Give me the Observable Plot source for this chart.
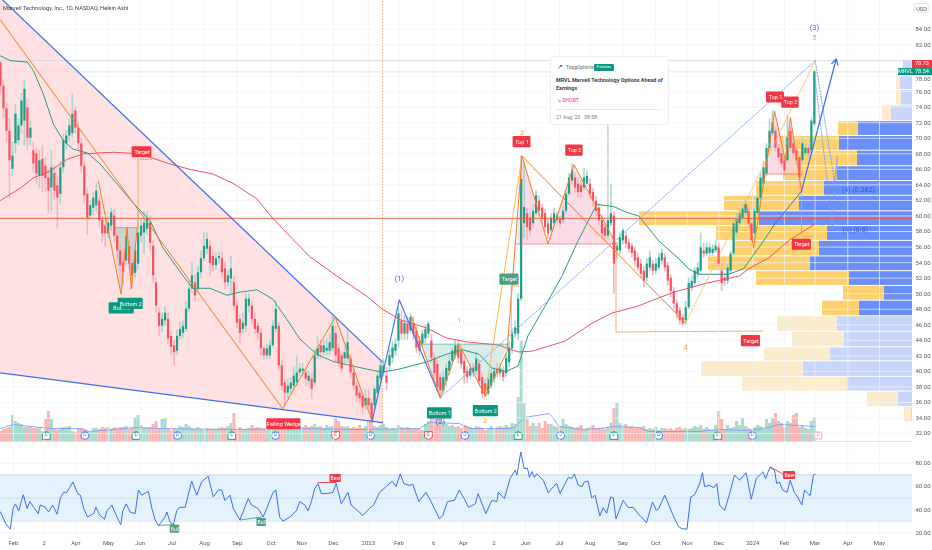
<!DOCTYPE html>
<html><head><meta charset="utf-8">
<script src="https://cdn.jsdelivr.net/npm/d3@7"></script>
<script src="https://cdn.jsdelivr.net/npm/@observablehq/plot@0.6"></script>
<style>
html,body{margin:0;padding:0;background:#fff;font-family:Roboto,"Open Sans",sans-serif}
#wrap{position:relative;width:932px;height:550px;overflow:hidden;filter:blur(.3px)}
#wrap svg{position:absolute;left:0;background:transparent}
.tag{position:absolute;color:#fff;font-size:5.6px;line-height:7.5px;height:7.5px;text-align:center;z-index:6}
#card{position:absolute;left:550px;top:56px;width:117px;height:67px;background:#fff;border:1px solid #eceef2;border-radius:4px;z-index:5;color:#3c4150}
#card div{position:absolute;white-space:nowrap}
</style></head><body>
<div id="wrap"></div>
<script>
// ---------- time axis ----------
const firstBar = Date.UTC(2022,0,19,17);
const lastTime = Date.UTC(2024,5,1,7);
const barHours = 68;
const t = i => new Date(firstBar + i*barHours*3600e3);
const monthDates = ["2022-02-01","2022-03-02","2022-04-01","2022-05-02","2022-06-01","2022-07-01","2022-08-01","2022-09-01","2022-10-03","2022-11-01","2022-12-01","2023-01-03","2023-02-01","2023-03-06","2023-04-03","2023-05-02","2023-06-01","2023-07-03","2023-08-01","2023-09-01","2023-10-02","2023-11-01","2023-12-01","2024-01-02","2024-02-01","2024-03-01","2024-04-01","2024-05-01"].map(d=>new Date(d));
const monthLabels = ["Feb","2","Apr","May","Jun","Jul","Aug","Sep","Oct","Nov","Dec","2023","Feb","6","Apr","2","Jun","Jul","Aug","Sep","Oct","Nov","Dec","2024","Feb","Mar","Apr","May"];
// ---------- candles (Heikin Ashi) ----------
const barOpen = [79.7,76.7,73.8,70.9,66,69.3,69.7,71.6,72.2,73.9,70,68.4,68,65.1,67.3,66.4,64.9,63.6,65.5,63.9,
62.8,66.2,69.3,70.3,70.6,73.5,71.3,69.3,66.4,62.8,60,61,61.3,61.9,59.4,58.7,57.7,58.7,60,57.4,
55.5,54,54.2,56.1,53.9,52.6,53.8,57.4,57.8,58.3,59.1,56.1,51.4,47.5,45.8,46.5,46.7,44.5,43.3,42.6,
44.5,44.9,45.4,48,50.6,51.4,50.6,52.7,54.5,55.7,56.1,54.8,53.6,54.5,54.5,53.2,51.4,51.9,51.4,48.4,
46.7,45.4,45.8,48.4,48.4,46.7,45.8,44.9,42.9,42,42,43.3,45.4,45.8,40.7,38.5,37.2,37.7,38.1,38.5,
39.8,40,39.8,38.7,39,38.5,42,43.3,42.4,42.6,42.6,42.9,44.9,42.9,42,41.6,41.6,41.6,39.8,38.1,
37.2,36.8,35.6,36.5,35.9,35.6,37.2,39,39.8,39.4,40.7,41.7,42.6,43.9,46.5,44.8,46.1,45.2,46.1,45.2,
43.9,43.5,44.2,44.8,43.9,41.7,40.9,39.2,37.5,38.7,40,41.3,42,43.3,42.6,41.3,40,39.4,39.8,40,
40.9,39.2,38.4,37.1,38.1,39,40.3,39.7,40,39.7,41.1,42.9,44.8,44.8,49.3,59,60.3,59.7,59,60.3,
61.9,61,60.3,59,58.1,59,59.4,59.6,59.4,60.6,62.8,64.5,64.9,64.1,63.9,63.6,64.1,64.1,63,61.9,
61,59.4,58.5,57.4,59,60,55.5,55.5,56.8,57.4,56.5,56.1,55.5,54.6,53.8,52.9,52,53.3,53.8,52.9,
53.3,54.2,54.6,53.6,52,50.3,48.7,47.8,46.9,46.5,48.2,50.7,51.3,52.5,52.9,55.5,55.1,55.2,55.2,55.5,
55.9,52.9,52,51.6,52.9,55.1,57.8,59,59.7,60.3,60.6,59,57.7,60.3,62.3,64.1,65.4,68.7,70.6,70.9,
68.7,68,67.1,67.1,70.9,69.3,68.4,67.5,67.1,68,68.7,68.4,71.8];
const barClose = [76.7,73.8,70.9,67.1,67.7,73.1,71.6,74.8,76.3,70,71.3,66.7,65.4,67.1,65.1,64.8,63.2,66.2,63.2,62.3,
66.2,69.7,70.3,71.6,73.1,71.3,69.3,66.4,62.6,59.7,61.3,62.3,63.2,59.4,57.7,57.7,59.1,60.4,57.4,55.5,
53.6,52.7,57.4,53.8,52.3,55.5,57.8,58.7,59.1,59.6,56.5,52.3,48.4,45.8,46.7,47.5,44.2,43.1,42.4,44.5,
45.4,45.8,48,50.6,52.3,49.7,52.7,54.5,56.1,57,53.9,53.6,54.5,54.8,52.7,51.4,52.3,53.2,48.4,46.2,
44.9,46.2,49.3,49.3,46.7,45.4,44.9,42.9,42,42.9,43.3,45.8,48,40.7,38.1,37.2,38.1,38.5,39.4,39.8,
40.3,40.3,39,39.4,37.7,42,42.9,42.4,43.3,43,43.7,45.8,42,41.1,40.3,42.4,43.7,39.8,38.1,36.8,
36.5,35.3,36.5,35.6,33.9,37.7,39.4,40.7,40.7,38.5,42,43,43.5,47.4,44.8,46.2,44.8,46.9,44.8,43,
42.6,44.8,45.4,46.1,41.7,39.7,37.9,37.5,39.2,40.4,41.3,42.6,43.3,41.7,40.9,39.7,39.2,40.3,40.4,41.6,
38.7,37.1,36.8,39,39.7,40,39.7,40.3,39.2,41.7,43,44.8,45.6,49.3,64.7,61.1,58.5,58.1,60.6,62.6,
60.6,59.7,58.5,57.7,59.7,60.3,60,59,60.6,62.8,64.9,65.8,63.6,63,63,64.9,65.1,62.8,61.9,60.6,
59.4,57.7,57.4,59.4,60.3,53.8,56.1,57.2,58.1,56.4,55.7,55.2,54.2,53.3,52.5,51.6,53.8,54.6,52.9,53.8,
54.6,55.2,53.3,51.6,50.3,48.7,47.4,46.5,46.1,48.2,51.3,51.6,52.9,53.3,55.9,55.1,55.9,55.9,55.7,56.1,
53.8,51.3,51.6,53.3,55.1,59,59.6,60.3,60.9,61.5,59,56.8,60.6,62.3,64.9,66.2,68.7,70.9,72,68.7,
67.5,66.7,65.8,70,68.7,68,67.1,64.9,69.3,68.7,68,72.2,78.54];
const barHigh = [79.9,77.5,74.5,72.5,69.5,74.4,72.5,75.8,77.4,75,72.2,69.5,68.8,68.5,69,67.5,66,68.4,66.5,65,
67,70.5,71,72.5,75.7,74,72,70,67,63.5,62,63,64.3,62.5,60,59.5,60,61,60.8,58,
56.2,55,58.3,56.8,54.8,56.5,60.9,59.5,60.5,60.5,60,56.8,52,48.2,47.5,48.3,47.5,45.2,44,45.3,
46.3,46.5,49,51.5,54,52.5,53.5,55.5,57.8,57.8,56.8,55.5,55.3,55.5,55.3,54,53,54.8,52.2,49,
47.3,47.5,50,50,49,47.5,46.3,45.5,43.2,43.5,44,46.5,49.1,46.3,41.5,39,39,39.2,40.5,42,
41,41,40.5,40,39.8,42.8,44.5,44,44,44.2,44.8,47.1,45.8,43.5,42.5,43.2,45.4,42.2,40.2,38.6,
37.7,37.2,37.7,37.7,36.5,38,40,41.5,41.5,40.5,42.8,43.8,44.2,48.2,47.8,47.2,47,47.5,47,45.8,
44.5,45.3,46,46.4,44.8,42.2,41.5,39.8,40,41,42,43,44,44,43,41.8,40.6,41,41,42.5,
41.5,39.8,39,39.5,40.3,40.5,41,41,40.5,42.3,43.8,45.5,46.5,50,67.7,66.9,61,60.5,61.5,63.2,
62.5,61.5,60.8,59.6,60.3,61,60.5,60,61.2,63.2,65.5,66.7,65.5,64.8,64.5,66.1,65.8,64.8,63.5,62.5,
61.5,60,59,60,64.1,60.5,56.6,57.8,58.4,57.9,57,56.5,56,55.2,54.4,53.5,54.5,55.4,54.3,54.5,
55.2,55.8,55.2,54,52.4,50.8,49.2,48.2,47.3,49,52,52.3,53.4,54,57.8,56.5,56.6,56.5,56.3,56.8,
56.4,54,52.6,53.8,55.5,59.5,60.2,60.8,61.5,62,61,59.5,61,62.8,65.5,67,69.3,72.5,73.5,71.5,
69.2,68.5,67.7,72.9,71.5,70,69,68,70,69.2,69.2,72.6,78.73];
const barLow = [75.5,72.5,69.5,62.2,65,68,69,70.5,69,68.5,69,65.5,64,63.5,63,63,60.3,60.5,62,58.3,
61.5,65.5,68.5,69.5,70,70.5,68.5,65.5,61.5,57.5,59.5,60,60.5,58.5,56.5,56,57,58,56.5,54.5,
52.5,51,53.5,53,50.7,52,53,56.5,55,57.5,55.5,51.3,47.5,44.5,45,45.8,43.5,42,40.7,42,
44,44.2,45,47.5,50,49,50,52,54,55,52.3,52.8,53,53.8,52,50.5,50.8,50,47.8,45.5,
43.6,44.8,45,47.5,46,44.8,44,42,41.3,41.5,41.5,43,45,40,37.5,35.5,36.5,37,37.5,38,
39.3,39.3,38,38,36.4,38,41.5,41.5,42,42,42,42.5,41,40.5,39.8,41,41,39,37.5,36,
35.8,34.5,35,35,33.6,35,36.8,38.5,39.3,37.5,40,41,42,43,44,44,44,44.8,44,42.3,
42,43,43.5,44.2,41,39,37.3,36.7,37,38,39.5,40.8,41.5,41,40.2,38.4,38.5,39,39.2,39.5,
38,36.5,36.6,36.8,37.7,38.5,39.2,39.2,38.6,39.3,40.5,42.2,44.3,44,49,57,56.8,57.3,58.5,60,
60,59,57.8,57,57.8,58.6,59,58.5,59,60.2,62.5,64,63,62.3,62.3,63.2,63.8,62.2,61.2,60,
58.8,57,56.7,57,58.6,50,54.5,55,56.3,55.8,55.2,54.6,53.6,52.8,52,50.8,51.5,52.8,52.3,52.5,
53,53.7,52.8,51,49.5,48,46.8,46,45.8,46,48,50.3,51,52,52.7,54.5,54.8,54.8,54.8,55.2,
53.3,50.3,51,51.2,52.5,54.8,57.3,58.5,59.2,59.8,58.5,55.9,57.3,60,62,63.8,65,68.3,70.3,68.2,
67,66.2,65.3,66.8,68.2,67.5,66.6,63.2,66.8,67.6,67.5,68,71.5];
// ---------- moving averages ----------
const maGreenBars = [0,3.3,9,11,14.3,17.7,21,24.3,29,33.3,39,44.3,50,54.3,61,64.3,70,75.7,80,85.7,91,95.7,100,105.7,111,117.7,122.3,127.7,133.3,142.3,149,154.3,160,164.3,169,173,176.3,182,187.7,193,199.3,205,209,213.3,220,226.7,230,233.3,243.3,248.3,254.3,258.3];
const maGreen = [80.6,80,79.8,78.7,75.7,71.8,69.7,68.6,68.1,66.7,64.1,61.7,59.4,55.9,52.3,50.7,50.7,49.8,50.2,50.5,49.3,46.7,44.2,42.2,41.3,40.7,40.3,39.9,40.3,41.2,42.2,42.8,42.2,40.4,40,40.7,44.6,48.4,52.3,56.8,61.5,61.2,60.5,60,56.8,54.5,53.2,52.5,52.5,53.2,56.4,58.7];
const maRedBars = [0,3.3,6.7,11,16.7,22.3,27.7,37.7,46.7,55.7,63.3,71,77.7,85.7,91,96.7,103.3,112.3,122.3,127.7,133.3,142.3,149,155.7,166.3,173,177.7,188.7,197.7,204.3,213,224.3,235.3,247,250,256.7,263.3,272.3];
const maRed = [62,62.8,63.6,64.9,65.8,67.3,68,68.2,68,66.8,66,65.4,64.2,62.2,59.7,57.4,54.8,52.3,49.7,48,46.7,45.6,44.3,43.8,43.4,42.5,42.6,43.9,46.2,47.5,48.4,50.1,51.3,52.3,53.2,54.6,56.8,59];
// ---------- chart patterns ----------
const priceTicks = d3.range(32,86,2).filter(p=>p!==80&&p!==78);
const gridTicks = d3.range(32,86,2);
const wedgeBars = [0,127.7], wedgeTop = [88.06,41.2], wedgeBottom = [39.8,33.4];
const fallBars = [0,94.3,111.9,124.2], fallPrices = [85.2,35.2,47,33.6];
const waveBlueBars = [124.2,133.3,147], waveBluePrices = [33.6,49.2,36.6];
const waveBlueDotBars = [147,272.3], waveBlueDotPrices = [36.6,80];
const dblBottomBars = [137.3,147,153.3,162,169.3,174.3], dblBottomPrices = [47.1,36.6,43.5,36.8,42.6,67.7];
const lightWaveBars = [162,174.3], lightWavePrices = [36.8,67.7];
const dblTopBars = [174.3,183,191.7,205.7], dblTopPrices = [67.7,56.4,66.6,56.4];
const wave34Bars = [174.3,229], wave34Prices = [67.7,46.2];
const wave45Bars = [229,272.3], wave45Prices = [46.2,80];
const leftWBars = [32.7,40.3,42.3,43.7,45.7], leftWPrices = [64.5,49.9,58.5,50.6,58.5];
const rightMBars = [249.3,251.7,258.7,262.3,264,267.7], rightMPrices = [61.5,55.9,73.5,67.1,72.7,63.2];
const fillPink1Bars = [173,174.3,183,191.7,205.7], fillPink1 = [56.4,67.7,56.4,66.6,56.4];
const fillPink2Bars = [256,258.7,262.3,264,267], fillPink2 = [65.4,73.5,67.1,72.7,65.4];
const fillTealBars = [140.6,147,153.3,162,170], fillTeal = [43.5,36.6,43.5,36.8,43.5];
const fillGreyBars = [38.3,40.3,42.3,43.7,45.7], fillGrey = [58.5,49.9,58.5,50.6,58.5];
const target1Bars = [46,46,50.7], target1Prices = [58.5,67.3,67.3];
const target2Bars = [170.7,170.7,173.3], target2Prices = [43.9,51,51];
const target3Bars = [205.7,205.7,254.7], target3Prices = [56.4,45.07,45.2];
const target4Bars = [267.7,267.7,271.7], target4Prices = [63.2,57.4,57.4];
const fibABars = [272.3,278.7,279.7,278], fibAPrices = [80,64.5,67.7,58.3];
const fibBBars = [272.3,276.3,278], fibBPrices = [77.4,64.5,58.3];
const impulseBars = [258.3,267.7], impulsePrices = [58.7,63.2];
const levels = {support:59.7, high:80, last:78.54, ideaBar:203, ideaTop:71.7, ideaBottom:60};
// labels: text, bar, price, half width in bars, colour
const boxLabels = [
 ["Target",47.3,68.2,3.3,"#f23645"],["Bot......",40.5,48.1,4.2,"#089981"],["Bottom 2",43.5,48.7,4.2,"#089981"],
 ["Falling Wedge",94.7,33.2,5.7,"#f23645"],["Bottom 1",146.8,34.6,4.1,"#089981"],["Bottom 2",162.2,34.9,4.2,"#089981"],
 ["Target",170.1,51.8,3.2,"#4f9d83"],["Top 1",174.3,69.5,3,"#f23645"],["Top 2",191.8,68.4,2.9,"#f23645"],
 ["Target",250.8,43.9,3.2,"#f23645"],["Top 1",259,75.25,3,"#f23645"],["Top 2",264,74.6,2.9,"#f23645"],["Target",267.8,56.3,3.2,"#f23645"]];
const waveLabels = [["(1)",133.3,52,"#3a6df0"],["(2)",147,33.5,"#3a6df0"],["(3)",272,84.2,"#3a6df0"],["(4) (0.382)",286.7,63.4,"#2f5bd8"],["(4) (0.5)",285.7,58.2,"#2f5bd8"],
 ["1",153.3,46.5,"#f7a23b"],["2",162,33.7,"#f7a23b"],["3",174.3,70.7,"#f7a23b"],["4",229,43.1,"#f7a23b"],["5",272,82.9,"#f7a23b"]];
// ---------- volume profile ----------
const rowTop = [80.1,78.1,76.2,74.2,72.2,70.3,68.4,66.4,64.5,62.6,60.6,58.7,56.8,54.8,52.9,51,49.1,47.1,45.1,43.1,41.3,39.3,37.4,35.4,33.5];
const rowTotal = [9,16,16,30,74,133,132,129,156,188,273,196,179,204,156,69,90,135,120,148,211,170,45,8];
const rowUp = [9,12,11,21,54,73,55,75,88,113,153,85,93,102,63,28,53,75,68,82,109,65,14,1];
// ---------- volume ----------
const volume = [10,12,13,14,26,20,18,17,14,14,14,13,13,14,10,22,30,22,12,11,
12,14,14,15,10,9,12,13,11,10,9,13,13,12,14,13,14,12,14,13,
14,14,15,12,14,24,26,16,14,13,14,17,20,13,22,23,12,11,13,12,
15,14,17,15,13,12,14,12,11,13,12,12,12,13,14,13,15,18,28,11,
14,12,12,13,16,13,14,13,12,11,12,13,13,12,12,13,14,13,12,12,
15,14,16,14,15,17,14,15,13,16,14,15,23,20,15,14,15,13,14,13,16,13,15,20,21,15,14,16,
17,14,12,13,12,16,14,13,14,13,12,13,12,11,17,20,24,25,22,28,20,17,15,
16,14,15,13,16,15,14,12,15,14,13,11,12,15,13,14,15,14,16,14,18,17,
44,100,38,22,15,
18,15,18,13,20,17,17,15,14,15,22,17,15,14,12,14,16,12,13,14,16,12,13,
13,12,14,18,33,38,
18,16,17,14,15,13,13,14,15,12,13,12,14,11,13,13,
12,13,11,13,14,12,13,12,13,15,14,16,12,14,12,11,16,30,22,
12,16,13,14,20,16,23,15,13,12,14,16,15,12,22,18,23,28,20,18,14,20,18,26,28,14,16,13,12,20,24];
const volMaBars = [0,4,16.7,26.7,30,45.3,53.3,76.7,100,120,140,143.3,153.3,156.7,170,171.7,175,183.3,184.3,186.7,195,200,205,213.3,216.7,233.3,240,250,256.7,260,266.7,272.3];
const volMa = [13,17,13,13,10,14,13,12,13,12,13,19,18,13,13,14,24,28,25,15,12,13,15,14,10,10,12,11,14,17,16,15];
const dividendBars = [28.2,59.2,91.9,123.7,155.2,187.2,220,251.3];
const earningsUpBars = [15.3,45.3,77.3,173,205,239.7];
const earningsDownBars = [112,143];
const earningsNextBars = [273.3];
// ---------- RSI ----------
const rsiBars = [0,1.7,3.3,4.2,5,6.1,7.6,8.9,9.8,11.1,12.6,13.3,15,16.1,17.4,18.9,20,21.1,22.2,24.2,25.8,26.7,27.8,29.1,31.1,31.9,33.3,34.7,35.6,37.2,38.9,40.2,40.9,42,43.3,45,46.1,47.2,49.4,50.6,51.7,52.8,55,55.6,56.7,57.8,58.9,59.8,61.7,63.9,65.6,67.2,69.4,71.1,72.8,73.9,75,76.7,77.8,80,82.8,83.9,86.1,87.8,91.1,92,93.3,94.4,96.7,98.9,100,101.7,102.8,103.9,105,106.1,107.2,109.4,111.1,112.2,113.9,116.1,117.2,119.4,121.1,123.3,124.7,126.7,128.9,130.9,132.2,133.6,134.8,136.7,137.8,139.8,142.2,143.9,146.7,147.8,149.4,151.7,153.3,155,156.4,158.7,159.6,162.2,164.2,165.9,166.4,168.4,170.3,172,172.6,173.9,175,176.1,176.8,177.6,178.4,179.2,181.4,183.1,184.8,185.9,187,189.8,190.9,191.8,193.1,194.4,195.1,196.4,197.6,198.7,200.3,201.4,202.6,203.9,204.8,205.7,208.1,209.8,211.4,213.1,215.9,217.9,219.2,220,222,224.8,226.4,227.6,229.4,230.7,232,233.7,234.6,235.3,237,238.4,239.4,240.3,242,243.7,245.3,247,249.2,250.9,252.6,254.8,255.7,257.2,258.7,259.4,260.3,261.4,262.9,263.9,265.3,266.4,267.8,268.7,269.8,270.6,271.7,272.3];
const rsiValues = [38,28,23,41,45,39,53,41,47,42,36.5,44,42,38,44,36,50,55,55,64,54,52.5,41,33.6,36.5,42,35,31.6,39,44,33.6,27,39,45,38,36.5,57,52.5,56,41,31,26,33.6,38,29,27,39,42,42,64.6,52.5,64,69,51,57,57,48,52.5,41,31,49.5,44,41,33.6,55,57,33.6,30,33.6,39,47,44,39,47,58,62.6,54,54,55,62.6,45,55,44,39,35,41,44,55,60,64.6,60,71,62.6,61,62,47,55,47,32,35,47,48,57,49.5,42,45,54,36.5,48,47,55,49.5,67,74,70,90,75.6,76,68,73,68,71,65.5,54.5,60,62.6,54,68,67,71,61,60,64,64.6,50,52.5,34.5,41.7,37,51,50,32,48,41.7,42,36.5,28.7,46.6,39.4,41,52.5,35,26,23.5,23,51,53,62.6,72,60,61,59,62.6,44,39.4,54,70,65.5,72,49,67,72.7,67,77,74,62.6,64,57,55,65.5,55,51,44,57,54,52,70,70.5];
const rsiLinks = [[52.8,26.3,58.3,27,"#4f9d83"],[80,31,87.3,33.6,"#4f9d83"],[106.1,63.5,112.2,63.5,"#f23645"],[257.2,77,263.9,67.5,"#f23645"]];
const rsiBoxes = [["Bull",58.3,23,1.6,"#4f9d83"],["Bull",87.3,28.8,1.6,"#4f9d83"],["Bear",112,67,1.9,"#f23645"],["Bear",263.7,69.6,2,"#f23645"]];

// ---------- shared ----------
const GREEN="#1f9e87", RED="#f7525f", ORANGE="#f57c1f", LORANGE="#ffb74d", BLUE="#3a6df0", DOT="#7a9cf8";
const xOpt = {domain:[new Date(firstBar), new Date(lastTime)], axis:null};
const priceDomain = [30.98,87.73];
const pts = (xs,ys) => xs.map((b,i)=>({x:t(b),y:ys[i]}));
const L = (xs,ys,o) => Plot.line(pts(xs,ys),{x:"x",y:"y",clip:true,...o});
const font = "Roboto, 'Open Sans', sans-serif";
const wrap = document.getElementById("wrap");
const base = {width:932,marginLeft:0,marginRight:20,marginTop:0,style:{fontFamily:font,background:"transparent"}};

const bars = barOpen.map((o,i)=>({x:t(i),open:o,close:barClose[i],high:barHigh[i],low:barLow[i],up:barClose[i]>=o,vol:volume[i]}));

// ---------- main price pane ----------
const main = Plot.plot({...base,height:441,marginBottom:0,
 x:xOpt,y:{domain:priceDomain,axis:null},
 marks:[
  Plot.ruleX(monthDates,{stroke:"#f0f2f6",strokeWidth:.7}),
  Plot.ruleY(gridTicks,{stroke:"#f0f2f6",strokeWidth:.7}),
  Plot.areaY(wedgeBars.map((b,i)=>({x:t(b),y1:wedgeBottom[i],y2:wedgeTop[i]})),{x:"x",y1:"y1",y2:"y2",fill:"#ffdfe1",fillOpacity:.95,clip:true}),
  Plot.areaY(pts(fillGreyBars,fillGrey),{x:"x",y1:()=>58.5,y2:"y",fill:"#b9c9c4",fillOpacity:.65}),
  Plot.areaY(pts(fillTealBars,fillTeal),{x:"x",y1:()=>43.5,y2:"y",fill:"#cfeae5",fillOpacity:.8}),
  Plot.areaY(pts(fillPink1Bars,fillPink1),{x:"x",y1:()=>56.4,y2:"y",fill:"#f9cfdc",fillOpacity:.75}),
  Plot.areaY(pts(fillPink2Bars,fillPink2),{x:"x",y1:()=>65.4,y2:"y",fill:"#f9cfdc",fillOpacity:.75}),
  Plot.ruleX([t(127.7)],{y1:33,y2:87.7,stroke:"#f7a45e",strokeWidth:.9,strokeDasharray:"1.5,1.5"}),
  Plot.ruleX([t(levels.ideaBar)],{y1:levels.ideaTop,y2:levels.ideaBottom,stroke:"#cfd1d6",strokeWidth:1.6}),
  Plot.ruleY([levels.high],{stroke:"#d4d8dc",strokeWidth:.8}),
  Plot.ruleY([levels.last],{stroke:"#cde6df",strokeWidth:.8}),
  Plot.ruleX(bars,{x:"x",y1:"low",y2:"high",stroke:d=>d.up?"#a9d7cd":"#f8b4c0",strokeWidth:1.6}),
  Plot.ruleX(bars,{x:"x",y1:"open",y2:"close",stroke:d=>d.up?GREEN:RED,strokeWidth:2.2}),
  L(maRedBars,maRed,{stroke:"#f0505f",strokeWidth:1}),
  L(maGreenBars,maGreen,{stroke:"#2a9a80",strokeWidth:1}),
  Plot.ruleY([levels.support],{stroke:"#f0523f",strokeWidth:.9}),
  L(wedgeBars,wedgeTop,{stroke:BLUE,strokeWidth:1.2}),
  L(wedgeBars,wedgeBottom,{stroke:BLUE,strokeWidth:1.2}),
  L(fallBars,fallPrices,{stroke:ORANGE,strokeWidth:1}),
  L(waveBlueBars,waveBluePrices,{stroke:BLUE,strokeWidth:1.1}),
  L(waveBlueDotBars,waveBlueDotPrices,{stroke:DOT,strokeWidth:.9,strokeDasharray:"1.5,1.5"}),
  L(lightWaveBars,lightWavePrices,{stroke:LORANGE,strokeWidth:1}),
  L(dblBottomBars,dblBottomPrices,{stroke:ORANGE,strokeWidth:1}),
  L(dblTopBars,dblTopPrices,{stroke:ORANGE,strokeWidth:1}),
  L(wave34Bars,wave34Prices,{stroke:ORANGE,strokeWidth:1}),
  L(wave45Bars,wave45Prices,{stroke:LORANGE,strokeWidth:.9,strokeDasharray:"1.5,1.5"}),
  L(leftWBars,leftWPrices,{stroke:ORANGE,strokeWidth:1}),
  L(rightMBars,rightMPrices,{stroke:ORANGE,strokeWidth:1}),
  L([38.3,45.7],[58.5,58.5],{stroke:"#4fae97",strokeWidth:.8,strokeDasharray:"1.2,1.2"}),
  L([140.6,170],[43.5,43.5],{stroke:"#4fae97",strokeWidth:.8,strokeDasharray:"1.2,1.2"}),
  L([172.3,205.7],[56.4,56.4],{stroke:"#f0505f",strokeWidth:.8,strokeDasharray:"1.2,1.2"}),
  L([256,267.7],[65.4,65.4],{stroke:"#f0505f",strokeWidth:.8,strokeDasharray:"1.2,1.2"}),
  ...[[target1Bars,target1Prices],[target2Bars,target2Prices],[target3Bars,target3Prices],[target4Bars,target4Prices]].map(([a,b])=>L(a,b,{stroke:"#f79a55",strokeWidth:1,strokeDasharray:"1.3,1.3"})),
  L(fibABars,fibAPrices,{stroke:DOT,strokeWidth:.9,strokeDasharray:"1.5,1.5"}),
  L(fibBBars,fibBPrices,{stroke:DOT,strokeWidth:.9,strokeDasharray:"1.5,1.5"}),
  L(impulseBars,impulsePrices,{stroke:BLUE,strokeWidth:1}),
  Plot.arrow([{x1:t(267.7),y1:63.2,x2:t(279.3),y2:80.2}],{x1:"x1",y1:"y1",x2:"x2",y2:"y2",stroke:BLUE,strokeWidth:1.2,headLength:8,bend:false}),
  Plot.rect(boxLabels,{x1:d=>t(d[1]-d[3]),x2:d=>t(d[1]+d[3]),y1:d=>d[2]-.72,y2:d=>d[2]+.72,fill:d=>d[4],rx:1}),
  Plot.text(boxLabels,{x:d=>t(d[1]),y:d=>d[2],text:d=>d[0],fill:"#fff",fontSize:5.4}),
  Plot.text(waveLabels,{x:d=>t(d[1]),y:d=>d[2],text:d=>d[0],fill:d=>d[3],fontSize:d=>d[0].length>3?7:7.5}),
  Plot.axisY(priceTicks,{anchor:"right",tickSize:0,tickPadding:3,tickFormat:d=>d.toFixed(2),fontSize:6,fill:"#555b66",label:null}),
  Plot.axisY([78],{anchor:"right",tickSize:0,tickPadding:3,dy:3,tickFormat:d=>d.toFixed(2),fontSize:6,fill:"#555b66",label:null})
 ]});
main.style.top="0"; main.style.zIndex=3;

// ---------- volume profile (behind the candles) ----------
const rows = rowTotal.map((v,i)=>({top:rowTop[i],low:rowTop[i+1],total:v,up:rowUp[i],strong:i>=4&&i<=16}));
const profile = Plot.plot({...base,height:441,marginBottom:0,
 x:{domain:[912,0],axis:null},y:{domain:priceDomain,axis:null},
 marks:[
  Plot.rect(rows,{x1:0,x2:"up",y1:"low",y2:"top",fill:d=>d.strong?"#6b8ff9":"#c9d6fc",insetTop:.5,insetBottom:.5}),
  Plot.rect(rows,{x1:"up",x2:"total",y1:"low",y2:"top",fill:d=>d.strong?"#fdd26e":"#fdeccb",insetTop:.5,insetBottom:.5})
 ]});
profile.style.top="0"; profile.style.zIndex=1;

// ---------- volume pane ----------
const marker=(list,txt,col,sym)=>[
  Plot.dot(list,{x:d=>t(d),frameAnchor:"bottom",dy:-6,r:3.9,fill:"#fff",stroke:col,strokeWidth:.9,symbol:sym}),
  Plot.text(list,{x:d=>t(d),frameAnchor:"bottom",dy:-6,text:()=>txt,fill:col,fontSize:5.5})];
const volPlot = Plot.plot({...base,height:441,marginBottom:0,
 x:xOpt,y:{domain:[0,441],axis:null},
 marks:[
  Plot.ruleX(bars,{x:"x",y1:0,y2:"vol",stroke:d=>d.up?"#a9dbd0":"#fab6b4",strokeWidth:3.05}),
  L(volMaBars,volMa,{stroke:"#7d9ef7",strokeWidth:.9}),
  ...marker(earningsUpBars,"E","#089981",{draw(c,s){const r=Math.sqrt(s/Math.PI);c.moveTo(0,-r*1.1);c.lineTo(r,-r*.4);c.lineTo(r,r);c.lineTo(-r,r);c.lineTo(-r,-r*.4);c.closePath();}}),
  ...marker(earningsDownBars,"E","#f23645",{draw(c,s){const r=Math.sqrt(s/Math.PI);c.moveTo(-r,-r);c.lineTo(r,-r);c.lineTo(r,r*.4);c.lineTo(0,r*1.1);c.lineTo(-r,r*.4);c.closePath();}}),
  ...marker(earningsNextBars,"E","#f1a7bd","square"),
  ...marker(dividendBars,"D","#3a6df0","circle")
 ]});
volPlot.style.top="0"; volPlot.style.zIndex=2;

// ---------- RSI pane ----------
const rsiPts = pts(rsiBars,rsiValues);
const rsi = Plot.plot({...base,height:109,marginBottom:13,
 x:xOpt,y:{domain:[15.82,99.08],axis:null},
 marks:[
  Plot.ruleX(monthDates,{stroke:"#f0f2f6",strokeWidth:.7}),
  Plot.ruleY([20,40,60,80],{stroke:"#f0f2f6",strokeWidth:.7}),
  Plot.rectY([0],{x1:new Date(firstBar),x2:new Date(lastTime),y1:30,y2:70,fill:"#e3f2fd"}),
  Plot.ruleY([30,50,70],{stroke:"#cfd9e3",strokeWidth:.8}),
  Plot.ruleY([99.08],{stroke:"#e0e3eb",strokeWidth:1.2}),
  Plot.line(rsiPts,{x:"x",y:"y",stroke:BLUE,strokeWidth:1}),
  Plot.link(rsiLinks,{x1:d=>t(d[0]),y1:d=>d[1],x2:d=>t(d[2]),y2:d=>d[3],stroke:d=>d[4],strokeWidth:.9}),
  Plot.rect(rsiBoxes,{x1:d=>t(d[1]-d[3]),x2:d=>t(d[1]+d[3]),y1:d=>d[2]-3.4,y2:d=>d[2]+3.4,fill:d=>d[4],rx:1}),
  Plot.text(rsiBoxes,{x:d=>t(d[1]),y:d=>d[2],text:d=>d[0],fill:"#fff",fontSize:5}),
  Plot.axisY([20,40,60,80],{anchor:"right",tickSize:0,tickPadding:3,tickFormat:d=>d.toFixed(2),fontSize:6,fill:"#555b66",label:null}),
  Plot.axisX(monthDates,{anchor:"bottom",tickSize:0,tickPadding:3,fontSize:6,fill:"#555b66",label:null,tickFormat:d=>monthLabels[monthDates.findIndex(m=>+m===+d)]})
 ]});
rsi.style.top="441px"; rsi.style.zIndex=3;

wrap.append(main,profile,volPlot,rsi);

// ---------- header, price tags, idea card ----------
const html = (s)=>{const d=document.createElement("div");d.innerHTML=s;return d.firstElementChild;};
wrap.append(html(`<div style="position:absolute;left:3px;top:4px;font-size:5.7px;line-height:8px;color:#3a3e4a;z-index:6;white-space:nowrap">Marvell Technology, Inc., 1D, NASDAQ, Heikin Ashi</div>`));
wrap.append(html(`<div style="position:absolute;left:914px;top:3px;width:15px;height:10px;border:.6px solid #e3e5ea;border-radius:2px;font-size:5.6px;line-height:10px;text-align:center;color:#555b66;z-index:6;box-sizing:border-box">USD</div>`));
wrap.append(html(`<div class="tag" style="left:912px;top:60px;width:20px;background:#f23645">78.73</div>`));
wrap.append(html(`<div class="tag" style="left:912px;top:67.5px;width:20px;background:#089981">78.54</div>`));
wrap.append(html(`<div class="tag" style="left:898px;top:67.5px;width:14px;background:#089981">MRVL</div>`));
wrap.append(html(`<div id="card">
 <div style="left:6px;top:6px;font-size:7px;line-height:8px;color:#444">&#8599;</div>
 <div style="left:15px;top:6px;font-size:4.9px;line-height:8px;color:#666">TopgOptions</div>
 <div style="left:43px;top:7px;font-size:3.6px;line-height:5px;padding:0 1.5px;border:.5px solid #089981;background:#089981;color:#fff;border-radius:1px">Premium</div>
 <div style="left:5px;top:19px;font-size:5.4px;line-height:8.2px;font-weight:700;color:#3c4150">MRVL Marvell Technology Options Ahead of<br>Earnings</div>
 <div style="left:6px;top:39px;font-size:5.2px;line-height:8px;color:#f23645">&#8600; SHORT</div>
 <div style="left:5px;top:52px;width:106px;height:0;border-top:.6px solid #e8e9ed"></div>
 <div style="left:5px;top:56px;font-size:5.2px;line-height:8px;color:#7a7f8c">21 Aug '23 &#183; 08:58</div>
</div>`));
</script>
</body></html>
